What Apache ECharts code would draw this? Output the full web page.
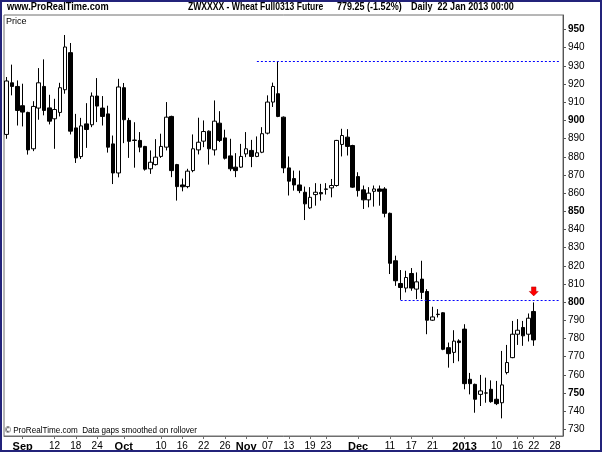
<!DOCTYPE html>
<html><head><meta charset="utf-8">
<script src="https://cdn.jsdelivr.net/npm/echarts@6/dist/echarts.min.js"></script>
<style>html,body{margin:0;padding:0;background:#fff}#c{width:602px;height:452px}</style>
</head><body><div id="c"></div>
<script>
// Trading days (day-of-month) per month
const daysAug2012 = [29,30,31];
const daysSep2012 = [4,5,6,7,10,11,12,13,14,17,18,19,20,21,24,25,26,27,28];
const daysOct2012 = [1,2,3,4,5,8,9,10,11,12,15,16,17,18,19,22,23,24,25,26,29,30,31];
const daysNov2012 = [1,2,5,6,7,8,9,12,13,14,15,16,19,20,21,23,26,27,28,29,30];
const daysDec2012 = [3,4,5,6,7,10,11,12,13,14,17,18,19,20,21,24,26,27,28,31];
const daysJan2013 = [2,3,4,7,8,9,10,11,14,15,16,17,18,22];
const daysFuture  = [23,24,25,28,29]; // empty right margin of the chart (Jan 2013)

// X tick labels: [date, text, bold]
const xTickLabels = [
  ['2012-09-04','Sep',true],['2012-09-12','12',false],['2012-09-18','18',false],['2012-09-24','24',false],
  ['2012-10-01','Oct',true],['2012-10-10','10',false],['2012-10-16','16',false],['2012-10-22','22',false],['2012-10-26','26',false],
  ['2012-11-01','Nov',true],['2012-11-07','07',false],['2012-11-13','13',false],['2012-11-19','19',false],['2012-11-23','23',false],
  ['2012-12-03','Dec',true],['2012-12-11','11',false],['2012-12-17','17',false],['2012-12-21','21',false],
  ['2013-01-02','2013',true],['2013-01-10','10',false],['2013-01-16','16',false],['2013-01-22','22',false],['2013-01-28','28',false]
];
const yTickValues = [730,740,750,760,770,780,790,800,810,820,830,840,850,860,870,880,890,900,910,920,930,940,950];
const yBoldValues = [750,800,850,900,950];

// OHLC (per trading day, Aug 29 2012 .. Jan 22 2013)
const opens = [892.3,920.7,918.7,908.1,904.4,884.4,906.8,918.7,906.9,900.9,
  904.4,916.9,937.3,895.9,880.1,898.1,897.6,913.4,906.8,903.6,
  887.1,871.1,918.0,900.0,889.2,889.0,885.7,873.4,875.7,880.2,
  885.3,902.2,875.7,864.5,863.6,872.4,883.8,888.6,894.1,883.8,
  898.5,890.4,880.5,874.3,874.3,881.6,883.5,880.2,882.5,893.0,
  910.1,914.7,901.8,873.9,868.0,864.5,860.5,851.9,859.2,860.3,
  862.3,862.9,864.2,886.8,890.8,886.2,869.1,861.8,856.3,861.0,
  862.3,862.3,848.9,822.8,810.3,807.8,815.8,807.2,812.7,805.9,
  790.1,793.4,794.2,775.0,772.4,778.7,785.2,757.6,754.8,749.3,
  750.1,752.1,746.6,744.7,761.3,769.5,782.4,786.1,782.4,794.9];
const closes = [921.7,918.7,905.5,904.6,883.8,907.7,920.7,905.5,899.6,906.0,
  918.0,940.4,894.1,879.4,897.0,895.0,913.4,907.9,902.2,885.3,
  871.1,918.4,900.4,888.5,889.0,885.3,873.2,877.0,879.8,885.7,
  901.8,872.4,863.6,863.5,872.1,884.4,888.0,893.9,884.4,899.6,
  889.0,879.2,873.4,872.4,880.2,884.4,880.2,882.2,892.7,910.1,
  918.7,902.2,873.9,866.6,864.5,861.4,854.1,857.7,860.5,859.6,
  862.1,864.2,889.0,891.7,885.7,863.3,861.4,856.3,860.0,862.3,
  861.0,848.9,821.4,811.8,808.1,813.6,807.8,811.2,805.4,790.1,
  791.9,793.2,774.1,771.7,778.6,777.8,755.2,755.2,746.6,751.2,
  750.0,745.3,744.2,754.5,766.8,782.4,784.6,781.5,791.2,779.25];
const lows = [889.9,913.8,897.2,896.7,881.2,883.1,900.4,902.8,897.8,884.4,
  902.2,914.7,892.3,876.6,878.8,884.9,896.3,899.1,897.2,882.3,
  865.0,868.7,887.5,879.4,874.0,882.5,872.4,870.6,875.2,879.4,
  883.5,868.8,855.9,861.0,862.7,871.5,881.3,885.3,875.7,880.7,
  888.1,878.5,872.1,868.8,873.9,879.8,874.3,879.8,882.0,892.3,
  907.4,901.8,871.0,858.7,861.4,860.0,845.2,851.3,853.1,855.9,
  859.2,857.7,863.6,880.2,880.7,862.9,858.1,851.3,852.2,852.6,
  853.1,846.7,815.5,809.0,801.3,805.4,806.3,801.7,801.7,782.4,
  789.7,791.6,773.6,764.0,766.5,767.5,752.1,749.3,739.2,742.9,
  744.7,744.7,743.4,736.1,760.3,769.2,776.5,776.0,778.4,776.0];
const highs = [923.9,930.7,922.0,920.2,904.8,910.6,928.8,933.6,914.1,911.9,
  920.7,947.0,942.6,903.6,901.4,909.5,915.4,923.3,913.4,908.1,
  891.7,922.9,920.6,901.4,899.0,893.6,886.0,883.5,889.7,892.7,
  910.1,902.6,876.1,868.0,873.4,892.3,901.5,900.0,894.5,911.0,
  905.1,894.9,889.9,882.0,887.1,893.6,889.3,891.2,896.3,913.8,
  920.8,932.5,902.2,880.2,872.4,872.4,863.6,863.3,865.5,865.1,
  865.5,867.8,889.3,895.4,895.2,886.6,871.5,864.2,863.3,864.2,
  864.2,863.3,849.3,825.6,817.7,817.3,818.8,816.4,822.8,807.2,
  797.5,796.2,794.5,777.8,784.6,779.6,787.9,761.1,755.2,760.0,
  758.5,757.0,756.7,773.2,776.5,789.7,790.7,789.7,793.8,799.9];

// Horizontal dotted levels: [start index, value]
const levelLines = [[47, 932.4],[74, 801.3]];
const lastPrice = 779.25;

const pad = n => (n < 10 ? '0' : '') + n;
const categories = [].concat(
  daysAug2012.map(d => '2012-08-' + pad(d)),
  daysSep2012.map(d => '2012-09-' + pad(d)),
  daysOct2012.map(d => '2012-10-' + pad(d)),
  daysNov2012.map(d => '2012-11-' + pad(d)),
  daysDec2012.map(d => '2012-12-' + pad(d)),
  daysJan2013.map(d => '2013-01-' + pad(d)),
  daysFuture.map(d => '2013-01-' + pad(d))
);
const labelMap = {};
xTickLabels.forEach(t => { labelMap[t[0]] = t; });
const ohlc = opens.map((o, i) => [o, closes[i], lows[i], highs[i]]);
const lastIdx = ohlc.length - 1;
const endCat = categories[categories.length - 1];

const FONT = 'Liberation Sans';
const chart = echarts.init(document.getElementById('c'), null, {renderer: 'canvas'});
chart.setOption({
  animation: false,
  backgroundColor: '#ffffff',
  grid: {left: 4, top: 15, width: 559, height: 421, show: true, borderColor: '#6e6e6e', borderWidth: 1, backgroundColor: '#fff'},
  xAxis: {
    type: 'category', data: categories, boundaryGap: true,
    axisLine: {show: true, lineStyle: {color: '#6e6e6e'}},
    axisTick: {show: true, alignWithLabel: true, length: 3, interval: (i, v) => !!labelMap[v], lineStyle: {color: '#6e6e6e'}},
    axisLabel: {
      interval: (i, v) => !!labelMap[v], margin: 5,
      fontFamily: FONT, fontSize: 10, color: '#000',
      formatter: v => labelMap[v] ? (labelMap[v][2] ? '{b|' + labelMap[v][1] + '}' : labelMap[v][1]) : '',
      rich: {b: {fontWeight: 'bold', fontFamily: FONT, fontSize: 11, color: '#000'}}
    },
    splitLine: {show: false}
  },
  yAxis: {
    type: 'value', position: 'right', min: 726.4, max: 958, scale: true,
    axisLine: {show: true, lineStyle: {color: '#555'}},
    axisTick: {show: true, length: 3, customValues: yTickValues, lineStyle: {color: '#555'}},
    axisLabel: {
      customValues: yTickValues, margin: 5, fontFamily: FONT, fontSize: 10, color: '#000',
      formatter: v => yBoldValues.indexOf(v) >= 0 ? '{b|' + v + '}' : String(v),
      rich: {b: {fontWeight: 'bold', fontFamily: FONT, fontSize: 10, color: '#000'}}
    },
    splitLine: {show: false}
  },
  series: [{
    type: 'candlestick',
    data: ohlc,
    barWidth: 4,
    itemStyle: {color: '#ffffff', color0: '#000000', borderColor: '#000000', borderColor0: '#000000', borderWidth: 1},
    markLine: {
      silent: true, symbol: 'none', animation: false,
      lineStyle: {color: '#0000ff', type: [2, 2], width: 1},
      label: {show: false},
      data: levelLines.map(l => [
        {coord: [categories[l[0]], l[1]], lineStyle: {color: '#0000ff', type: [2, 2], width: 1}, label: {show: false}},
        {coord: [endCat, l[1]], lineStyle: {color: '#0000ff', type: [2, 2], width: 1}}
      ]).concat([{
        yAxis: lastPrice, lineStyle: {opacity: 0},
        label: {show: true, position: 'end', distance: 3, formatter: String(lastPrice),
          backgroundColor: '#ffff00', color: '#000', fontFamily: FONT, fontSize: 10, padding: [1, 1, 0, 1]}
      }])
    },
    markPoint: {
      silent: true, animation: false,
      data: [{coord: [categories[lastIdx], highs[lastIdx]],
        symbol: 'path://M2,0 L6,0 L6,4 L8,4 L4,8 L0,4 L2,4 Z', symbolSize: [9, 9], symbolOffset: [0, -11],
        itemStyle: {color: '#ff0000', borderColor: '#b00000', borderWidth: 0.5}, label: {show: false}}]
    }
  }],
  graphic: [
    {type: 'rect', shape: {x: 1, y: 1, width: 600, height: 450}, style: {fill: 'none', stroke: '#23237a', lineWidth: 2}, z: 100},
    {type: 'text', x: 7, y: 1, scaleX: 0.84, style: {text: 'www.ProRealTime.com', font: 'bold 11px "Liberation Sans"', fill: '#000'}},
    {type: 'text', x: 188, y: 1, scaleX: 0.78, style: {text: 'ZWXXXX - Wheat Full0313 Future', font: 'bold 11px "Liberation Sans"', fill: '#000'}},
    {type: 'text', x: 337, y: 1, scaleX: 0.82, style: {text: '779.25 (-1.52%)', font: 'bold 11px "Liberation Sans"', fill: '#000'}},
    {type: 'text', x: 411, y: 1, scaleX: 0.82, style: {text: 'Daily  22 Jan 2013 00:00', font: 'bold 11px "Liberation Sans"', fill: '#000'}},
    {type: 'text', x: 6, y: 17, style: {text: 'Price', font: '9px "Liberation Sans"', fill: '#000'}, z: 50},
    {type: 'text', x: 5, y: 426, scaleX: 0.9, style: {text: '\u00A9 ProRealTime.com  Data gaps smoothed on rollover', font: '9px "Liberation Sans"', fill: '#000'}, z: 50}
  ]
});
</script></body></html>
